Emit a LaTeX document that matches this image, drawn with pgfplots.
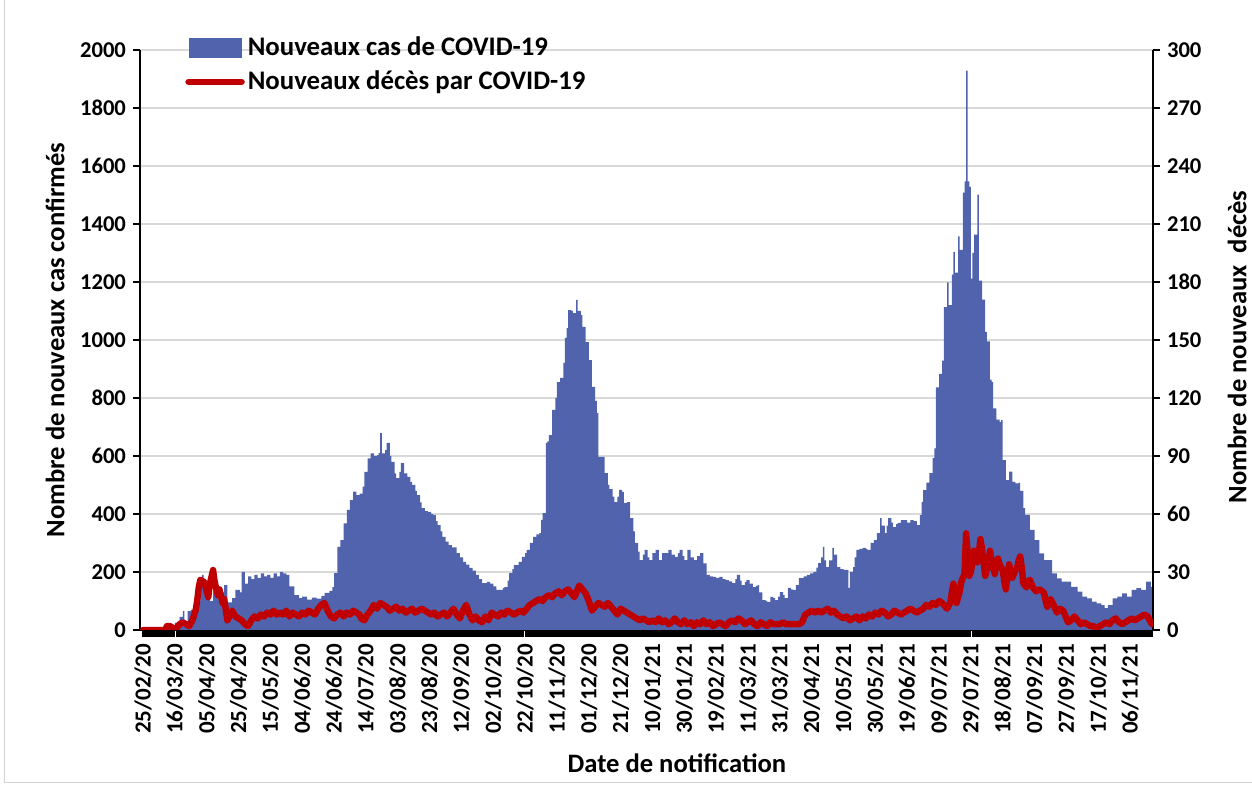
\documentclass[border=0pt]{standalone}
\usepackage{pgfplots}
\pgfplotsset{compat=1.18}
\usepackage{fontspec}
\setmainfont{Carlito}
\definecolor{casecol}{RGB}{80,99,172}
\definecolor{deathcol}{RGB}{192,0,0}
\definecolor{gridcol}{RGB}{217,217,217}
\begin{document}
\begin{tikzpicture}
\useasboundingbox (-70pt,-78pt) rectangle (556pt,315pt);
\draw[gray!35, line width=0.5pt] (-67.5pt,315pt) -- (-67.5pt,-76.5pt) -- (556pt,-76.5pt);
\begin{axis}[
  at={(0pt,0pt)}, anchor=south west,
  scale only axis, width=506.5pt, height=290pt,
  xmin=-1.9, xmax=634.4, ymin=0, ymax=2000,
  axis x line*=bottom, axis y line*=left,
  axis line style={-, black, line width=0.8pt},
  tick align=outside,
  major tick length=3.5pt, minor tick length=3.5pt,
  tick style={black, line width=0.6pt},
  minor tick style={black, line width=0.95pt},
  xtick={0,20,...,620},
  xticklabels={25/02/20,16/03/20,05/04/20,25/04/20,15/05/20,04/06/20,24/06/20,14/07/20,03/08/20,23/08/20,12/09/20,02/10/20,22/10/20,11/11/20,01/12/20,21/12/20,10/01/21,30/01/21,19/02/21,11/03/21,31/03/21,20/04/21,10/05/21,30/05/21,19/06/21,09/07/21,29/07/21,18/08/21,07/09/21,27/09/21,17/10/21,06/11/21},
  minor x tick num=19,
  extra x ticks={621,622,...,634}, extra x tick labels={},
  extra x tick style={grid=none, tick style={black, line width=0.95pt}},
  x tick label style={rotate=90, anchor=east, font=\bfseries\fontsize{11.5}{13}\selectfont},
  ytick={0,200,...,2000},
  y tick label style={font=\bfseries\fontsize{11.3}{13}\selectfont},
  /pgf/number format/assume math mode=true,
  /pgf/number format/set thousands separator={},
  ymajorgrids, grid style={gridcol, line width=0.8pt},
  xlabel={Date de notification},
  xlabel style={at={(axis description cs:0.530,-0.229)}, anchor=center, font=\bfseries\fontsize{13.3}{15}\selectfont},
  ylabel={Nombre de nouveaux cas confirmés},
  ylabel style={at={(axis description cs:-0.0839,0.5)}, rotate=0, anchor=center, font=\bfseries\fontsize{13.3}{15}\selectfont},
  legend style={at={(axis description cs:0.0444,1.028)}, anchor=north west, draw=none, fill=none,
    font=\bfseries\fontsize{13.4}{15}\selectfont, row sep=3pt, inner sep=0pt,
    nodes={inner sep=1.5pt, anchor=west}},
  legend cell align=left,
]
\fill[black] (axis cs:-1.9,0) rectangle ([yshift=-3.5pt]axis cs:634.4,0);
\addplot[draw=none, fill=casecol, const plot mark left,
  legend image code/.code={\fill[casecol] (0pt,-4.8pt) rectangle (26.5pt,4.8pt);}]
coordinates {
(-1.9,0) (7,3) (12,5) (17,10) (20,25) (23,45) (25,65) (26,30) (28,65) (30,70) (32,60) (34,100) (36,150) (37,190) (38,170) (40,120) (42,100) (44,140) (46,145) (48,130) (51,155) (53,95) (56,110) (58,138) (61,130) (62,200) (64,160) (66,185) (68,175) (70,190) (72,180) (74,195) (76,185) (78,190) (80,180) (82,195) (84,185) (86,200) (88,195) (90,190) (92,150) (95,120) (98,110) (100,115) (103,105) (106,112) (109,108) (112,118) (114,128) (117,135) (119,148)
(120,196) (122,287) (124,310) (126,368) (128,414) (130,448) (132,477) (134,465) (136,470) (138,494) (139,545) (141,592) (143,609) (145,600) (147,603) (148,610) (149,679) (150,609) (152,620) (153,645) (155,600) (156,580) (158,540) (159,524) (161,545) (162,575) (164,540) (166,528) (168,510) (169,500) (171,480) (172,465) (174,440) (175,420) (177,410) (179,407) (181,400) (182,397) (184,375) (185,362) (187,340) (188,321) (190,305) (192,293) (194,285) (197,265) (199,250) (201,235) (203,225) (205,214) (207,205) (209,190) (211,175) (213,162) (216,166) (218,160) (220,150) (222,138) (224,138) (226,145) (227,148) (229,170) (230,196) (232,210) (233,224) (236,235) (238,252) (240,265) (241,276) (243,300) (245,321) (247,330) (249,334) (250,380) (251,403)
(253,645) (254,650) (255,672) (257,759) (259,800) (260,855) (262,869) (264,921) (265,1007) (266,1041) (267,1103) (269,1100) (270,1093) (272,1138) (273,1100) (275,1086) (276,1045) (278,993) (280,931) (282,838) (284,790) (285,748) (286,597) (288,597) (290,541) (292,500) (293,486) (295,460) (296,441) (298,460) (299,483) (301,476) (302,438) (304,441) (306,386) (308,340) (309,300) (311,270) (312,241) (314,260) (315,276) (317,250) (318,241) (320,265) (322,276) (324,241) (326,265) (328,265) (330,276) (332,260) (334,252) (336,265) (337,276) (339,255) (340,241) (342,276) (344,250) (346,241) (348,255) (350,265) (352,230) (354,190) (356,185) (358,183) (360,180) (362,183) (364,175) (366,172) (368,168) (370,162) (372,175) (373,190) (375,170) (376,155) (378,165) (379,172) (381,160) (383,148) (385,152) (386,155) (387,130) (389,103) (391,100) (392,97) (394,114) (396,110) (397,103) (399,115) (400,131) (402,120) (403,110) (405,145) (407,140) (408,138) (410,155)
(412,179) (415,185) (417,190) (419,195) (421,200) (423,215) (424,231) (426,250) (427,287) (428,240) (429,217) (431,240) (433,283) (434,260) (436,217) (438,210) (440,207) (442,207) (443,145) (444,200) (446,217) (447,250) (448,276) (450,280) (452,283) (454,280) (455,276) (457,300) (459,310) (461,334) (463,386) (464,360) (466,334) (467,360) (468,386) (470,370) (471,355) (473,365) (474,369) (476,379) (478,379) (480,370) (482,379) (484,375) (486,362) (488,396) (489,442) (490,482) (492,508) (494,541) (496,593) (497,626) (498,837) (500,883) (502,929) (503,1113) (505,1199) (506,1120) (508,1225) (509,1304) (510,1232) (512,1357) (513,1311) (515,1508) (516,1547) (517,1929) (518,1547) (519,1528) (520,1212) (521,1300) (522,1363) (524,1501) (525,1205) (527,1139) (529,1028) (530,995) (532,863) (533,856) (534,764) (536,725) (538,718) (539,724) (540,586) (542,517) (544,546) (546,511) (548,506) (550,508) (551,480) (553,420) (554,397) (557,345) (560,310) (563,264) (566,241) (568,241) (571,195) (574,178) (577,167) (580,167) (583,149) (587,132) (590,115) (593,109) (596,98) (599,92) (602,86) (604,75) (606,86) (609,109) (612,115) (615,126) (618,115) (621,138) (624,144) (627,138) (630,167) (633,149) (634.4,149)
} \closedcycle;
\addlegendentry{Nouveaux cas de COVID-19}
\addlegendimage{legend image code/.code={\draw[deathcol, line width=3.2pt, line cap=round] (0pt,0pt) -- (26.5pt,0pt);}}
\addlegendentry{Nouveaux décès par COVID-19}
\end{axis}
\begin{axis}[
  at={(0pt,0pt)}, anchor=south west,
  scale only axis, width=506.5pt, height=290pt,
  xmin=-1.9, xmax=634.4, ymin=0, ymax=300,
  axis x line=none, axis y line*=right,
  axis line style={-, black, line width=0.8pt},
  tick align=outside, major tick length=3.5pt,
  tick style={black, line width=0.6pt},
  ytick={0,30,...,300},
  y tick label style={font=\bfseries\fontsize{11.3}{13}\selectfont},
  /pgf/number format/assume math mode=true,
  ylabel={Nombre de nouveaux\ \ décès},
  ylabel style={at={(axis description cs:1.083,0.488)}, rotate=0, anchor=center, font=\bfseries\fontsize{13.3}{15}\selectfont},
]
\addplot[deathcol, line width=3.2pt, line join=round, line cap=round, no marks] coordinates {
(0,0) (14,0) (15,2) (17,2) (19,1) (21,1) (23,3) (25,4) (27,3) (29,2) (31,5) (33,10) (34,15) (35,22) (36,26) (38,25) (39,24) (40,20) (41,17) (42,24) (44,31) (45,25) (47,18) (48,21) (50,14) (51,16) (53,5) (56,10) (58,7) (60,6) (62,5) (64,3) (66,2) (68,5) (70,7) (72,6) (74,8) (76,7) (78,9) (80,8) (82,10) (84,8) (86,9) (88,8) (90,10) (92,7) (94,9) (96,8) (98,7) (100,9) (102,8) (104,10) (106,9) (108,8) (110,11) (112,13) (114,14) (116,10) (118,7) (120,6) (122,8) (124,9) (126,7) (128,9) (130,8) (132,10) (134,9) (136,8) (137,6) (139,5) (141,8) (143,10) (145,13) (147,11) (149,14) (151,13) (153,12) (155,10) (157,11) (159,12) (161,10) (163,11) (165,9) (167,10) (169,11) (171,9) (173,10) (175,11) (177,10) (179,9) (181,8) (183,9) (185,7) (187,8) (189,9) (191,7) (193,9) (195,11) (197,8) (199,6) (201,10) (203,13) (205,8) (207,5) (209,7) (211,5) (213,4) (215,7) (217,5) (219,9) (221,8) (223,7) (225,9) (227,8) (229,10) (231,9) (233,8) (235,9) (237,10) (239,9) (241,11) (243,13) (245,14) (247,15) (249,16) (251,15) (253,17) (255,18) (257,17) (259,19) (261,20) (263,18) (265,20) (267,21) (269,19) (271,17) (274,23) (276,21) (278,19) (280,15) (282,10) (284,12) (286,14) (288,13) (290,12) (292,14) (294,12) (296,10) (298,8) (300,11) (302,10) (304,9) (306,8) (308,7) (310,6) (312,5) (314,6) (316,5) (318,4) (320,5) (322,4) (324,6) (326,4) (328,5) (330,3) (332,4) (334,6) (336,4) (338,3) (340,5) (342,3) (344,4) (346,2) (348,4) (350,3) (352,5) (354,3) (356,4) (358,2) (360,3) (362,4) (364,3) (366,2) (368,4) (370,5) (372,4) (374,6) (376,5) (378,3) (380,4) (382,5) (384,3) (386,2) (388,4) (390,3) (392,2) (394,4) (396,3) (398,3) (400,3) (402,4) (404,3) (406,3) (408,3) (410,3) (412,3) (414,4) (416,8) (418,9) (420,10) (422,9) (424,10) (426,9) (428,10) (430,11) (432,9) (434,10) (436,8) (438,7) (440,6) (442,7) (444,5) (446,6) (448,7) (450,5) (452,7) (454,6) (456,8) (458,7) (460,9) (462,8) (464,10) (466,9) (468,7) (470,8) (472,10) (474,9) (476,8) (478,9) (480,10) (482,11) (484,10) (486,9) (488,10) (490,11) (492,13) (494,12) (496,14) (498,13) (500,15) (502,14) (504,12) (505,11) (507,14) (509,24) (510,20) (511,14) (513,20) (514,25) (516,29) (517,50) (518,40) (519,28) (520,30) (521,35) (522,41) (523,38) (524,35) (525,40) (526,47) (527,42) (528,35) (529,28) (530,31) (531,35) (532,41) (533,36) (535,29) (536,33) (537,37) (538,34) (540,31) (541,25) (542,21) (543,28) (544,34) (545,30) (546,27) (547,29) (548,31) (549,32) (550,36) (551,38) (552,32) (553,24) (555,22) (556,25) (557,26) (559,22) (561,20) (563,21) (565,20) (566,19) (567,15) (568,12) (570,16) (572,13) (574,9) (576,11) (578,10) (580,6) (581,4) (583,5) (585,7) (587,5) (589,3) (591,4) (593,3) (595,2) (597,2) (599,1) (601,2) (603,3) (605,4) (607,3) (609,5) (611,6) (613,4) (615,3) (617,4) (619,5) (621,6) (623,5) (625,6) (627,7) (629,8) (631,7) (633,4) (634,3)
};
\end{axis}
\end{tikzpicture}
\end{document}
